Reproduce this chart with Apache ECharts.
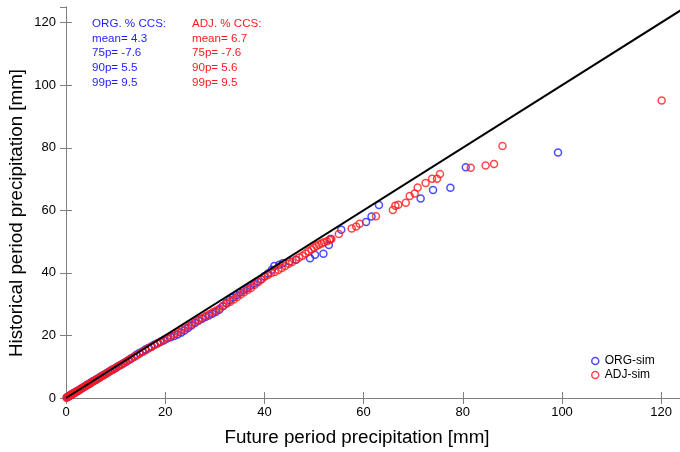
<!DOCTYPE html>
<html>
<head>
<meta charset="utf-8">
<script src="https://cdn.jsdelivr.net/npm/echarts@6/dist/echarts.min.js"></script>
<style>html,body{margin:0;padding:0;background:#fff}#c{width:680px;height:452px}</style>
</head>
<body>
<div id="c"></div>
<script>
// Axis ticks
const xTicks = [0, 20, 40, 60, 80, 100, 120];
const yTicks = [0, 20, 40, 60, 80, 100, 120];

// ORG-sim: [future, historical]
const orgSim = [
[0.2,0.2],[0.4,0.4],[0.6,0.6],[0.8,0.8],[1.0,1.0],[1.2,1.2],[1.4,1.4],[1.7,1.6],[1.9,1.9],[2.2,2.1],[2.5,2.4],[2.8,2.7],[3.1,3.0],[3.4,3.3],[3.7,3.6],[4.0,3.9],[4.3,4.2],[4.6,4.5],[4.9,4.8],[5.2,5.1],[5.5,5.4],[5.9,5.7],[6.2,6.0],[6.6,6.4],[6.9,6.7],[7.3,7.1],[7.7,7.4],[8.1,7.8],[8.5,8.2],[8.9,8.6],[9.3,9.0],[9.7,9.3],
[10.1,9.7],[10.6,10.2],[11.1,10.6],[11.6,11.1],[12.1,11.6],[12.6,12.1],[13.1,12.6],[13.7,13.2],[14.2,13.8],[14.8,14.4],[15.4,14.9],[16.0,15.5],[16.6,16.0],[17.2,16.5],[17.8,17.0],[18.4,17.4],[19.0,17.9],[19.7,18.4],[20.4,19.0],[21.1,19.4],[21.8,19.8],[22.5,20.3],[23.2,20.9],[23.9,21.6],[24.6,22.4],
[25.3,23.2],[26.0,24.0],[26.7,24.7],[27.4,25.3],[28.1,25.9],[28.8,26.4],[29.5,26.9],[30.2,27.5],[30.9,28.2],[31.6,29.3],[32.3,30.4],[33.0,31.3],[33.7,32.1],[34.4,32.9],[35.1,33.7],[35.8,34.5],[36.5,35.2],[37.2,35.9],[37.9,36.6],[38.6,37.3],[39.3,38.0],[40.0,38.9],[40.7,39.8],[41.5,41.0],[42.0,42.2],[43.0,42.6],[43.7,43.1],[45.1,43.6],[46.4,44.2],[49.2,44.7],[50.2,45.8],[51.9,46.1],[53.0,48.9],[53.3,50.8],[55.5,53.8],[60.5,56.3],[61.6,58.0],[63.1,61.7],[71.5,63.8],[74.0,66.5],[77.5,67.2],[80.6,73.8],[99.2,78.5]
];

// ADJ-sim: [future, historical]
const adjSim = [
[0.1,0.1],[0.3,0.3],[0.5,0.5],[0.7,0.7],[0.9,0.9],[1.1,1.1],[1.3,1.3],[1.5,1.5],[1.8,1.7],[2.0,2.0],[2.3,2.2],[2.6,2.5],[2.9,2.8],[3.2,3.1],[3.5,3.4],[3.8,3.7],[4.1,4.0],[4.4,4.3],[4.7,4.5],[5.0,4.8],[5.3,5.1],[5.6,5.4],[6.0,5.8],[6.3,6.1],[6.7,6.4],[7.0,6.8],[7.4,7.1],[7.8,7.5],[8.2,7.9],[8.6,8.3],[9.0,8.7],[9.4,9.0],[9.8,9.4],
[10.2,9.8],[10.7,10.3],[11.2,10.7],[11.7,11.2],[12.2,11.7],[12.7,12.2],[13.2,12.6],[13.8,13.2],[14.3,13.7],[14.9,14.2],[15.5,14.8],[16.1,15.3],[16.7,15.9],[17.3,16.4],[17.9,17.0],[18.5,17.5],[19.1,18.1],[19.8,18.7],[20.5,19.3],[21.2,19.9],[21.9,20.5],[22.6,21.1],[23.3,21.7],[24.0,22.3],[24.7,22.9],
[25.4,23.5],[26.1,24.2],[26.8,24.9],[27.5,25.5],[28.2,26.2],[28.9,26.8],[29.6,27.4],[30.3,28.0],[31.0,28.6],[31.7,29.4],[32.4,30.1],[33.1,30.8],[33.8,31.5],[34.5,32.3],[35.2,33.1],[35.9,33.8],[36.6,34.5],[37.3,35.2],[38.0,36.1],[38.7,37.0],[39.4,37.9],[40.0,38.8],[40.7,39.3],[41.4,40.0],[42.1,40.3],[42.8,40.9],[43.5,41.6],[44.2,42.2],[44.9,42.9],[45.6,43.5],[46.3,44.2],[47.0,44.9],[47.7,45.5],[48.3,46.2],[48.9,46.9],[49.5,47.5],[50.0,48.0],[50.5,48.6],[51.0,49.0],[51.5,49.4],[52.0,49.8],[52.6,50.1],[53.1,50.5],[53.5,50.8],
[55.0,52.4],[57.6,54.2],[58.5,54.8],[59.2,55.7],[62.5,58.1],[65.9,60.1],[66.4,61.5],[67.0,61.8],[68.5,62.4],[69.3,64.6],[70.3,65.4],[70.9,67.3],[72.5,68.7],[73.8,70.1],[74.8,70.1],[75.4,71.6],[81.6,73.6],[84.6,74.3],[86.3,74.8],[88.0,80.6],[120.1,95.1]
];

// 1:1 reference line
const oneToOne = [[0,0],[125,125]];

// Annotation texts
const orgStats = ['ORG. % CCS:', 'mean= 4.3', '75p= -7.6', '90p= 5.5', '99p= 9.5'];
const adjStats = ['ADJ. % CCS:', 'mean= 6.7', '75p= -7.6', '90p= 5.6', '99p= 9.5'];

const FONT = 'Liberation Sans, Arial, sans-serif';
const BLUE = '#1f1fff';
const RED = '#ff1a1a';
const AX = '#808080';

const chart = echarts.init(document.getElementById('c'), null, {renderer: 'canvas'});

function axisCommon(show) {
  return {
    type: 'value', min: 0, max: 125, interval: 20,
    axisLine: {show: true, lineStyle: {color: AX, width: 1}},
    axisTick: {show: true, inside: true, length: 6, lineStyle: {color: AX, width: 1}},
    axisLabel: {show: show, color: '#000', fontFamily: FONT, fontSize: 13, showMaxLabel: false,
      formatter: v => (xTicks.indexOf(v) >= 0 ? String(v) : '')},
    splitLine: {show: false}
  };
}

const xb = axisCommon(true); xb.position = 'bottom'; xb.axisLabel.margin = 8;
const xt = axisCommon(false); xt.position = 'top';
const yl = axisCommon(true); yl.position = 'left'; yl.axisLabel.margin = 10;
const yr = axisCommon(false); yr.position = 'right';

const graphics = [];
orgStats.forEach((t, i) => graphics.push({type: 'text', left: 92, top: 18 + i * 14.6,
  style: {text: t, fill: BLUE, font: '11.6px ' + FONT}}));
adjStats.forEach((t, i) => graphics.push({type: 'text', left: 192, top: 18 + i * 14.6,
  style: {text: t, fill: RED, font: '11.6px ' + FONT}}));
graphics.push({type: 'text', x: 357, y: 438, style: {text: 'Future period precipitation [mm]', fill: '#000', font: '18.8px ' + FONT, align: 'center', verticalAlign: 'middle'}});
graphics.push({type: 'text', x: 17, y: 213, rotation: Math.PI / 2, style: {text: 'Historical period precipitation [mm]', fill: '#000', font: '18.8px ' + FONT, align: 'center', verticalAlign: 'middle'}});

function scatter(name, data, color) {
  return {
    name, type: 'scatter', data, xAxisIndex: 0, yAxisIndex: 0,
    symbol: 'circle', symbolSize: 7,
    itemStyle: {color: 'rgba(0,0,0,0)', borderColor: color, borderWidth: 1.5},
    emphasis: {disabled: true}, animation: false, z: 2
  };
}

chart.setOption({
  animation: false,
  backgroundColor: '#fff',
  grid: {left: 66, top: 7, width: 620, height: 391, show: false, containLabel: false, outerBoundsMode: 'none'},
  xAxis: [xb, xt],
  yAxis: [yl, yr],
  legend: {
    left: 586, top: 350, orient: 'vertical', itemGap: 2, itemWidth: 9, itemHeight: 7,
    icon: 'circle',
    textStyle: {fontFamily: FONT, fontSize: 12, color: '#000', padding: [0, 0, 0, 0]},
    data: [
      {name: 'ORG-sim', itemStyle: {color: 'rgba(0,0,0,0)', borderColor: BLUE, borderWidth: 1.5}},
      {name: 'ADJ-sim', itemStyle: {color: 'rgba(0,0,0,0)', borderColor: RED, borderWidth: 1.5}}
    ]
  },
  series: [
    scatter('ORG-sim', orgSim, BLUE),
    scatter('ADJ-sim', adjSim, RED),
    {type: 'line', data: oneToOne, symbol: 'none', lineStyle: {color: '#000', width: 2}, z: 5, silent: true}
  ],
  graphic: graphics
});
</script>
</body>
</html>
